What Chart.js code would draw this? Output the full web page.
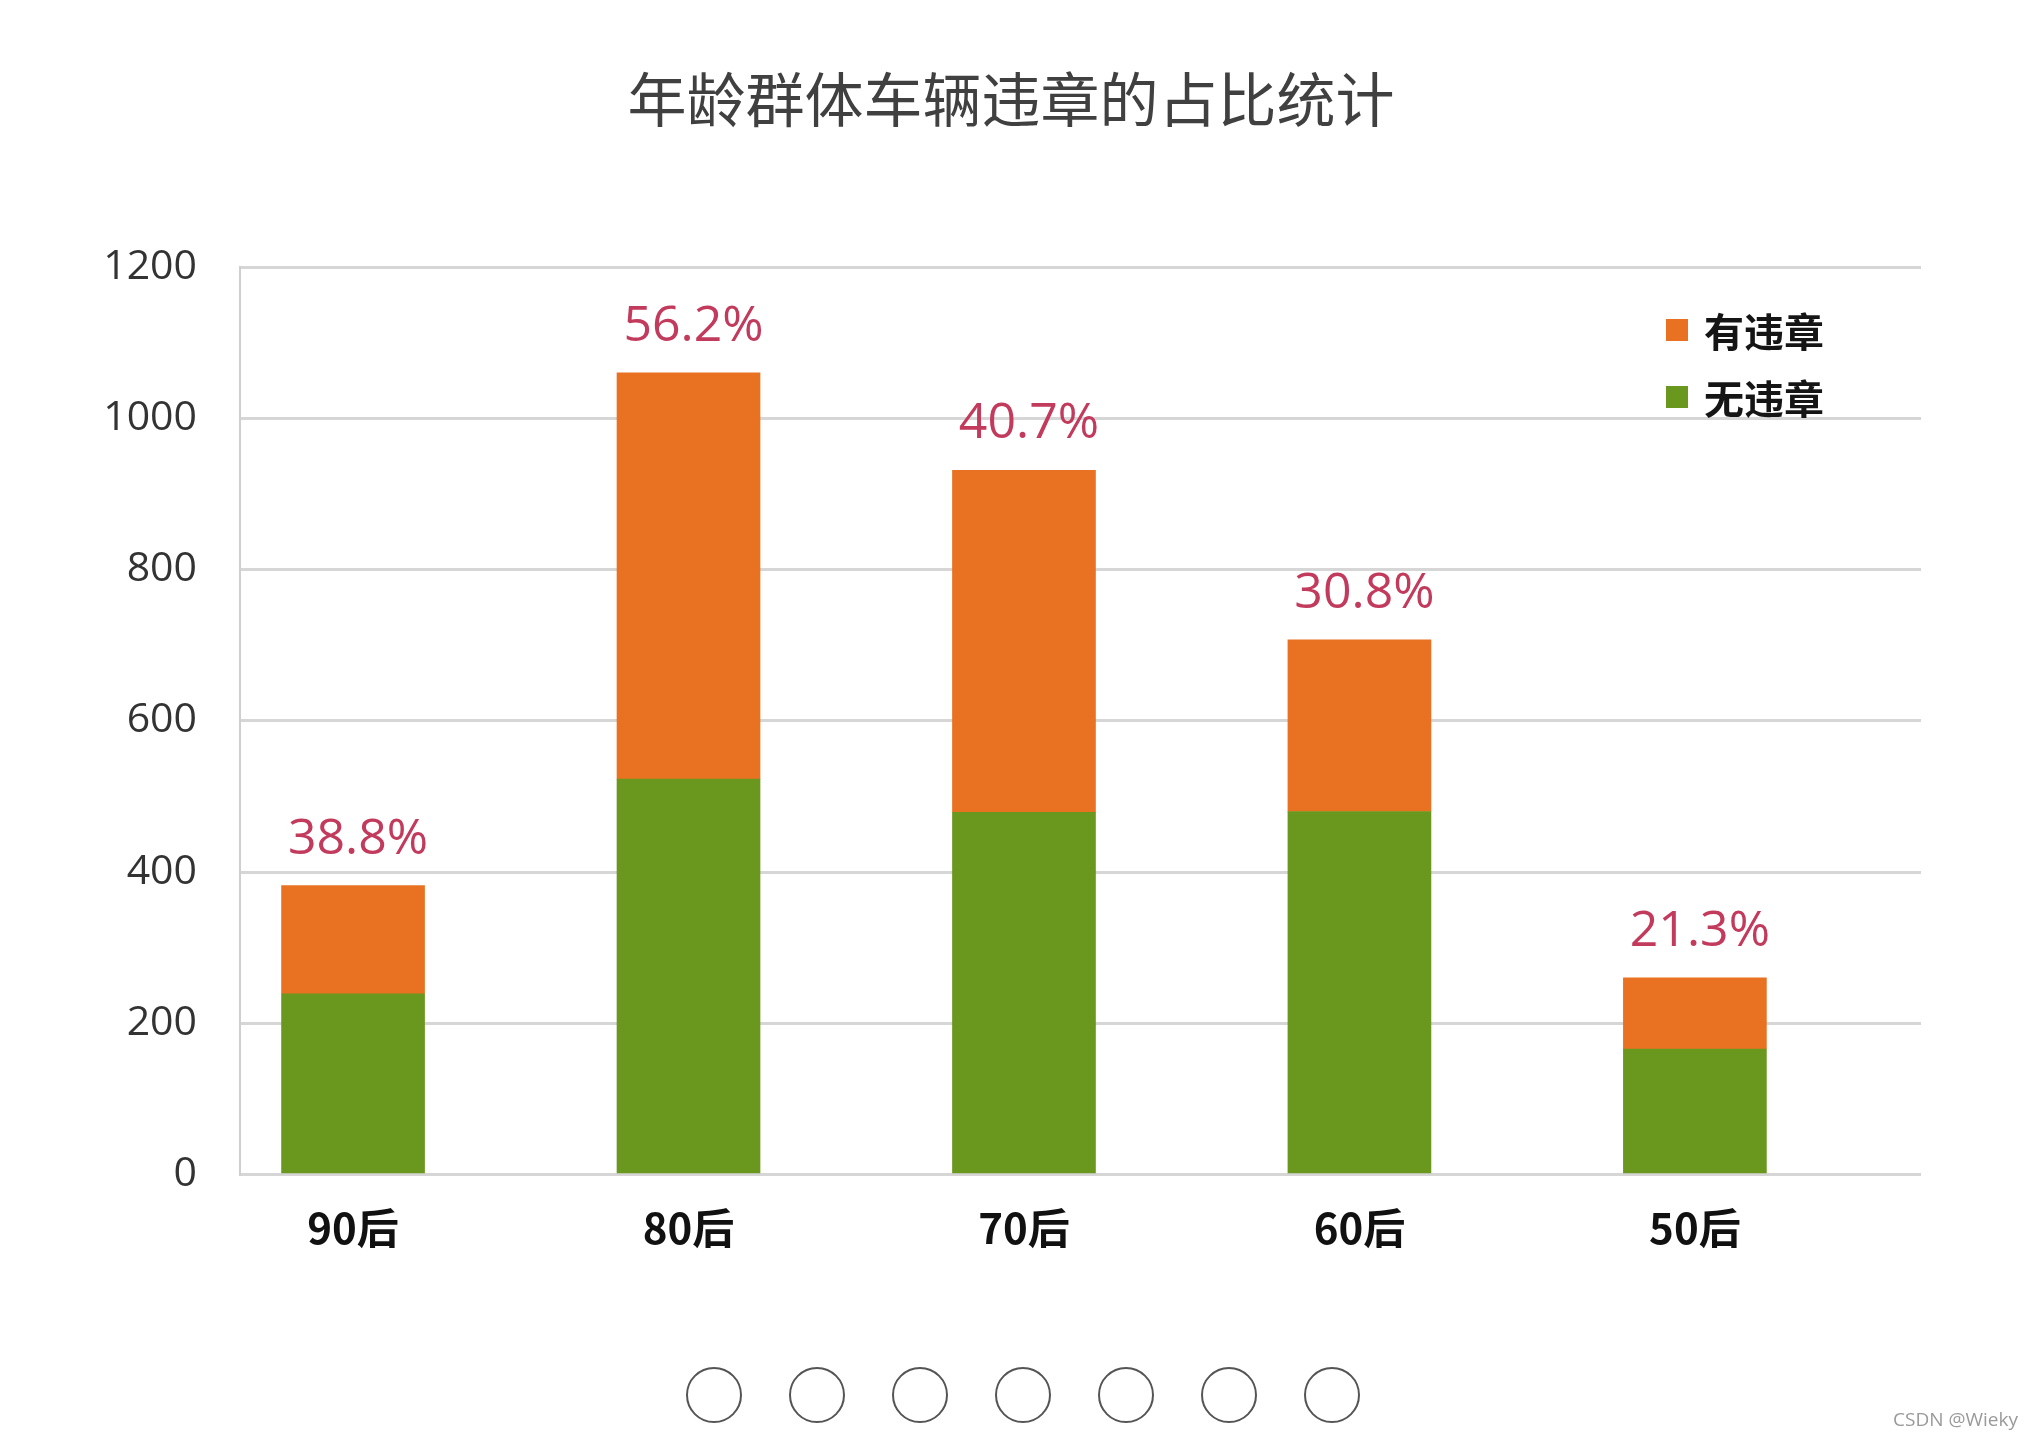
<!DOCTYPE html>
<html lang="zh-CN">
<head>
<meta charset="utf-8">
<title>年龄群体车辆违章的占比统计</title>
<script src="https://cdn.jsdelivr.net/npm/chart.js@4.4.1/dist/chart.umd.min.js"></script>
<style>
    html, body { margin: 0; padding: 0; background: #fff; }
    .page { position: relative; width: 2032px; height: 1440px; overflow: hidden; }
    .page canvas { position: absolute; left: 0; top: 0; }
    .titulo {
        position: absolute; left: 0; width: 2022px; top: 62px;
        text-align: center; font: 59px/70px "Noto Sans CJK SC", sans-serif;
        color: #404040;
    }
    .legenda { position: absolute; left: 1666px; top: 296px; }
    .legenda__item {
        display: flex; align-items: center; height: 67px;
        font: bold 40px "Noto Sans CJK SC", sans-serif; color: #151515;
    }
    .legenda__cor { width: 22px; height: 22px; margin-right: 16px; }
    .pontos { position: absolute; left: 686px; top: 1367px; display: flex; gap: 47px; }
    .pontos span {
        width: 52px; height: 52px; border: 2.5px solid #555; border-radius: 50%;
        box-sizing: content-box;
    }
    .marca {
        position: absolute; right: 14px; top: 1406px;
        font: 19px "Open Sans", sans-serif; color: #9a9a9a;
    }
</style>
</head>
<body>
<div class="page">
    <canvas id="chart-violacoes"></canvas>
    <div class="titulo">年龄群体车辆违章的占比统计</div>
    <div class="legenda" id="legenda"></div>
    <div class="pontos"><span></span><span></span><span></span><span></span><span></span><span></span><span></span></div>
    <div class="marca">CSDN @Wieky</div>
</div>

<script>
/* dados */
const categorias = ['90后', '80后', '70后', '60后', '50后'];
const comViolacao = [143, 537, 452, 227, 94];     // 有违章
const semViolacao = [239, 523, 479, 480, 166];    // 无违章
const taxas = ['38.8%', '56.2%', '40.7%', '30.8%', '21.3%'];
const yTicks = [0, 200, 400, 600, 800, 1000, 1200];

const COR = {
    laranja: '#E87222',
    verde:   '#6A971D',
    taxa:    '#C23A5C',
    grade:   '#d6d6d6',
    eixo:    '#cfcfcf',
    texto:   '#333333',
};

// rótulos de percentagem acima de cada pilha
const rotulosTaxa = {
    id: 'rotulosTaxa',
    afterDatasetsDraw(chart) {
        const { ctx, scales: { x, y } } = chart;
        ctx.save();
        ctx.font = '50px "Open Sans", sans-serif';
        ctx.fillStyle = COR.taxa;
        ctx.textAlign = 'center';
        ctx.textBaseline = 'alphabetic';
        categorias.forEach((_, i) => {
            const total = comViolacao[i] + semViolacao[i];
            ctx.fillText(taxas[i], x.getPixelForValue(i) + 5, y.getPixelForValue(total) - 32);
        });
        ctx.restore();
    }
};

const ctx = document.getElementById('chart-violacoes');
ctx.width = 2032;
ctx.height = 1440;

new Chart(ctx, {
    type: 'bar',
    data: {
        datasets: [
            {
                label: '无违章',
                data: semViolacao.map((v, i) => ({ x: i, y: v })),
                backgroundColor: COR.verde,
                barThickness: 143,
            },
            {
                label: '有违章',
                data: comViolacao.map((v, i) => ({ x: i, y: v })),
                backgroundColor: COR.laranja,
                barThickness: 143,
            }
        ]
    },
    options: {
        responsive: false,
        animation: false,
        devicePixelRatio: 1,
        layout: { padding: { top: 267, right: 111, left: 0, bottom: 0 } },
        plugins: {
            legend: { display: false },
            tooltip: { enabled: false },
        },
        scales: {
            x: {
                type: 'linear',
                stacked: true,
                offset: false,
                min: -0.337,
                max: 4.674,
                grid: { display: false, drawTicks: false },
                border: { display: false },
                ticks: {
                    stepSize: 1,
                    includeBounds: false,
                    autoSkip: false,
                    maxRotation: 0,
                    padding: 28,
                    color: '#111',
                    font: { family: '"Noto Sans CJK SC", sans-serif', size: 42, weight: 'bold' },
                    callback: v => categorias[v] ?? '',
                },
                afterFit: s => { s.height = 1440 - 1174.5; },
            },
            y: {
                stacked: true,
                min: yTicks[0],
                max: yTicks[yTicks.length - 1],
                grid: { color: COR.grade, lineWidth: 3, drawTicks: false },
                border: { color: COR.eixo, width: 2 },
                ticks: {
                    stepSize: 200,
                    padding: 43,
                    color: COR.texto,
                    font: { family: '"Open Sans", sans-serif', size: 41 },
                    callback: v => String(v),
                },
                afterFit: s => { s.width = 240; },
            }
        }
    },
    plugins: [rotulosTaxa]
});

// legenda em HTML (有违章 em cima)
const legenda = document.getElementById('legenda');
[['有违章', COR.laranja], ['无违章', COR.verde]].forEach(([nome, cor]) => {
    const item = document.createElement('div');
    item.className = 'legenda__item';
    item.innerHTML = `<span class="legenda__cor" style="background:${cor}"></span>${nome}`;
    legenda.appendChild(item);
});
</script>
</body>
</html>
